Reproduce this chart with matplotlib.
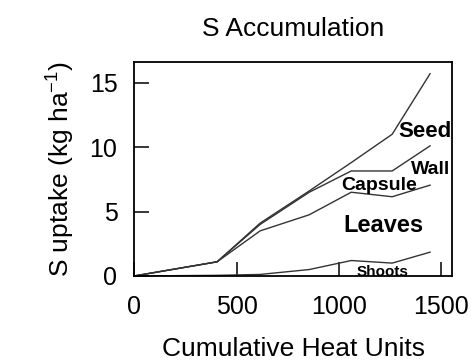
import matplotlib
matplotlib.use("Agg")
import matplotlib.pyplot as plt

plt.rcParams["font.family"] = ["Liberation Sans", "DejaVu Sans"]
plt.rcParams["mathtext.fontset"] = "custom"
plt.rcParams["mathtext.rm"] = "Liberation Sans"
plt.rcParams["mathtext.default"] = "regular"

# cumulative heat units (sampling dates)
heat_units = [0, 405, 615, 855, 1060, 1260, 1445]

# stacked S uptake (kg/ha), each line is the running total
shoots = [0, 0.05, 0.12, 0.5, 1.2, 1.0, 1.85]
leaves = [0, 1.1, 3.5, 4.75, 6.5, 6.15, 7.05]
wall = [0, 1.1, 4.0, 6.5, 8.15, 8.15, 10.1]
seed = [0, 1.1, 4.1, 6.6, 8.8, 11.0, 15.7]

# labels: text, x, y, size
region_labels = [
    ("Seed", 1420, 11.2, 16),
    ("Wall", 1446, 8.3, 14),
    ("Capsule", 1198, 7.0, 14),
    ("Leaves", 1217, 3.9, 17),
    ("Shoots", 1214, 0.3, 11),
]

fig = plt.figure(figsize=(4.74, 3.61), dpi=100)
ax = fig.add_axes([0.283, 0.2355, 0.671, 0.5925])

for series in [shoots, leaves, wall, seed]:
    ax.plot(heat_units, series, color="#333333", lw=1.0)

for text, x, y, size in region_labels:
    ax.text(x, y, text, fontsize=size, fontweight="bold", ha="center", va="center")

ax.set_xlim(0, 1553)
ax.set_ylim(0, 16.6)
ax.set_xticks([0, 500, 1000, 1500])
ax.set_yticks([0, 5, 10, 15])
ax.tick_params(direction="in", length=10, width=1.1, labelsize=18, pad=14)
ax.tick_params(axis="y", length=11, pad=12)
for sp in ax.spines.values():
    sp.set_linewidth(1.3)

ax.set_title("S Accumulation", fontsize=19, pad=19)
ax.set_xlabel("Cumulative Heat Units", fontsize=19, labelpad=13)
ax.set_ylabel("S uptake (kg ha$^{-1}$)", fontsize=19, labelpad=9)

fig.savefig("out.png", dpi=100)
